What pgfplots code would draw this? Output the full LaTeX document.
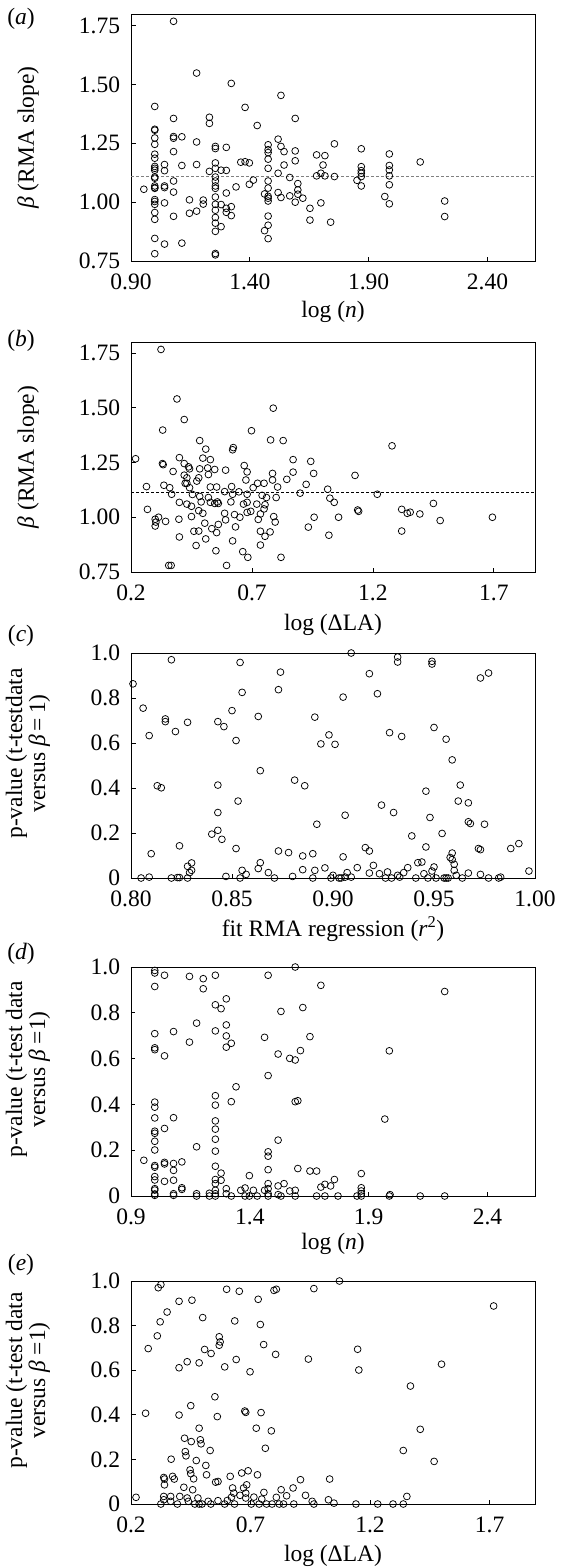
\documentclass[border=0pt]{standalone}
\usepackage{fontspec}
\setmainfont{Liberation Serif}
\usepackage{pgfplots}
\pgfplotsset{compat=1.18}
\newcommand\fs{\fontsize{23.5}{23}\selectfont}
\pgfplotsset{
 panel/.style={
  scale only axis, width=404pt,
  axis line style={line width=0.9pt},
  xtick pos=bottom, ytick pos=left, tick align=inside,
  major tick length=4.5pt, tick style={line width=0.8pt, black},
  every tick label/.append style={font=\fs, inner sep=0pt},
  xticklabel style={yshift=-12.6pt},
  yticklabel style={xshift=-10.7pt},
  /pgf/number format/assume math mode=true,
  clip=false,
  every axis x label/.style={at={(axis description cs:0.5,0)},anchor=center,yshift=-51pt,font=\fs},
  every axis y label/.style={at={(axis description cs:0,0.5)},xshift=-103pt,rotate=90,anchor=center,font=\fs,align=center},
 },
 pts/.style={only marks, mark=o, mark size=3.4pt, mark options={line width=0.75pt, black}},
}
\begin{document}
\begin{tikzpicture}
\useasboundingbox (0,0) rectangle (574pt,-1568pt);
% ---------- (a)
\node[font=\fs] at (21pt,-19pt) {(\textit{a})};
\begin{axis}[panel, at={(131pt,-261pt)}, anchor=south west, height=247pt,
  xmin=0.9, xmax=2.6, ymin=0.75, ymax=1.80,
  xtick={0.9,1.4,1.9,2.4}, xticklabels={0.90,1.40,1.90,2.40},
  ytick={0.75,1,1.25,1.5,1.75}, yticklabels={0.75,1.00,1.25,1.50,1.75},
  xlabel={log (\textit{n})}, ylabel={\textit{β} (RMA slope)}]
\addplot[gray, line width=0.8pt, dash pattern=on 3pt off 2pt] coordinates {(0.9,1.11) (2.6,1.11)};
\addplot[pts] coordinates {
(0.954,1.055)
(1.0,1.407)(1.0,1.310)(1.0,1.306)(1.0,1.273)(1.0,1.246)(1.0,1.204)(1.0,1.187)(1.0,1.152)(1.0,1.144)(1.0,1.136)(1.0,1.107)(1.0,1.102)(1.0,1.069)(1.0,1.062)(1.0,1.059)(1.0,1.011)(1.0,1.003)(1.0,0.991)(1.0,0.956)(1.0,0.927)(1.0,0.846)(1.0,0.781)
(1.041,1.16)(1.041,1.134)(1.041,1.069)(1.041,1.062)(1.041,0.997)(1.041,0.822)
(1.079,1.769)(1.079,1.356)(1.079,1.279)(1.079,1.272)(1.079,1.215)(1.079,1.09)(1.079,1.043)(1.079,0.94)
(1.114,1.278)(1.114,1.156)(1.114,0.826)
(1.146,1.01)(1.146,0.953)
(1.176,1.549)(1.176,1.256)(1.176,1.16)(1.176,0.962)
(1.204,1.009)(1.204,0.992)
(1.230,1.361)(1.230,1.335)(1.230,1.131)
(1.255,1.237)(1.255,1.228)(1.255,1.167)(1.255,1.144)(1.255,1.107)(1.255,1.090)(1.255,1.069)(1.255,1.059)(1.255,1.022)(1.255,0.991)(1.255,0.966)(1.255,0.935)(1.255,0.911)(1.255,0.876)(1.255,0.782)(1.255,0.776)
(1.279,1.136)(1.279,0.99)(1.279,0.896)
(1.301,1.233)(1.301,1.135)(1.301,1.039)(1.301,0.974)(1.301,0.957)
(1.322,1.505)(1.322,0.981)(1.322,0.943)
(1.342,1.065)(1.362,1.170)(1.380,1.403)(1.380,1.172)(1.398,1.167)(1.398,1.076)(1.415,1.094)(1.431,1.326)
(1.462,1.035)(1.462,0.879)
(1.477,1.244)(1.477,1.223)(1.477,1.211)(1.477,1.183)(1.477,1.144)(1.477,1.09)(1.477,1.06)(1.477,1.025)(1.477,1.017)(1.477,1.005)(1.477,0.941)(1.477,0.902)(1.477,0.845)
(1.519,1.268)(1.519,1.123)(1.519,1.041)
(1.531,1.454)(1.531,1.237)(1.531,1.02)
(1.544,1.215)(1.544,1.158)
(1.568,1.105)(1.568,1.027)
(1.591,1.356)(1.591,1.218)(1.591,1.176)(1.591,1.0)
(1.602,1.079)(1.602,1.052)(1.602,1.034)
(1.623,1.017)(1.653,0.974)(1.653,0.924)
(1.681,1.201)(1.681,1.112)(1.699,1.123)(1.699,0.997)(1.708,1.158)(1.716,1.198)(1.716,1.112)
(1.740,0.915)(1.756,1.248)(1.756,1.109)
(1.851,1.093)
(1.869,1.227)(1.869,1.151)(1.869,1.134)(1.869,1.123)(1.869,1.109)(1.869,1.069)
(1.968,1.024)
(1.987,1.205)(1.987,1.156)(1.987,1.137)(1.987,1.112)(1.987,1.074)(1.987,0.993)
(2.117,1.171)(2.22,1.005)(2.22,0.939)
};
\end{axis}
% ---------- (b)
\node[font=\fs] at (21pt,-341pt) {(\textit{b})};
\begin{axis}[panel, at={(131pt,-572pt)}, anchor=south west, height=230pt,
  xmin=0.2, xmax=1.87, ymin=0.75, ymax=1.80,
  xtick={0.2,0.7,1.2,1.7}, xticklabels={0.2,0.7,1.2,1.7},
  ytick={0.75,1,1.25,1.5,1.75}, yticklabels={0.75,1.00,1.25,1.50,1.75},
  xlabel={log (ΔLA)}, ylabel={\textit{β} (RMA slope)}, every axis x label/.append style={yshift=-2pt}]
\addplot[black, line width=0.8pt, dash pattern=on 3pt off 2pt] coordinates {(0.2,1.115) (1.87,1.115)};
\addplot[pts] coordinates {
(0.219,1.267)(0.264,1.14)(0.268,1.036)(0.30,0.991)(0.303,0.978)(0.30,0.96)(0.314,1.0)
(0.324,1.766)(0.33,1.245)(0.333,1.24)(0.331,1.398)(0.336,1.146)(0.343,0.981)(0.356,0.78)(0.366,0.78)
(0.36,1.135)(0.368,1.105)(0.374,1.209)(0.39,1.54)(0.398,0.991)(0.40,1.272)(0.40,1.068)(0.40,0.91)
(0.42,1.446)(0.42,1.245)(0.42,1.192)(0.424,1.155)(0.431,1.18)(0.431,1.155)(0.438,1.23)(0.442,1.221)(0.442,1.135)(0.431,1.06)
(0.45,1.003)(0.45,1.05)(0.454,1.104)(0.46,0.936)(0.469,0.871)(0.472,1.165)(0.48,1.18)(0.484,1.35)(0.484,1.221)(0.484,1.095)
(0.48,0.937)(0.48,1.03)(0.49,1.07)(0.497,1.018)(0.497,1.27)(0.505,0.973)(0.509,1.311)(0.509,0.901)
(0.517,1.225)(0.52,1.195)(0.52,1.09)(0.528,1.263)(0.528,1.138)(0.528,1.068)(0.534,0.948)
(0.546,1.218)(0.546,1.063)(0.551,0.847)(0.554,1.138)(0.557,1.07)(0.561,0.967)(0.561,1.063)(0.554,0.93)
(0.587,1.117)(0.587,1.018)(0.591,0.988)(0.591,1.215)(0.595,0.78)
(0.613,1.07)(0.616,1.14)(0.62,1.105)(0.62,0.892)(0.62,1.308)(0.623,1.318)(0.628,1.012)(0.632,0.956)
(0.646,1.116)(0.65,1.0)(0.662,0.843)(0.665,1.06)(0.668,1.236)(0.675,1.17)(0.68,1.207)(0.68,1.022)(0.68,1.068)(0.68,1.105)(0.683,0.817)
(0.695,1.027)(0.698,1.395)(0.705,1.135)(0.72,1.06)(0.726,0.99)(0.723,1.155)
(0.735,1.015)(0.735,0.936)(0.735,0.873)(0.742,1.1)(0.75,1.155)(0.75,1.038)(0.754,1.057)(0.754,0.913)(0.76,1.09)
(0.775,0.933)(0.777,1.353)(0.785,1.2)(0.785,1.17)(0.788,1.498)(0.79,1.003)(0.796,0.978)(0.80,1.09)(0.806,1.138)
(0.82,0.817)(0.829,1.35)(0.844,1.173)(0.87,1.263)(0.87,1.206)(0.899,1.11)(0.924,1.15)(0.933,0.955)(0.943,1.255)(0.955,1.2)(0.957,1.0)
(1.013,1.128)(1.018,0.918)(1.022,1.087)(1.04,1.068)(1.058,1.0)
(1.126,1.191)(1.137,1.033)(1.141,1.027)(1.218,1.105)(1.279,1.326)
(1.319,1.036)(1.319,0.937)(1.342,1.018)(1.354,1.023)(1.394,1.015)(1.45,1.063)(1.478,0.985)(1.694,1.0)
};
\end{axis}
% ---------- (c)
\node[font=\fs] at (21pt,-636pt) {(\textit{c})};
\begin{axis}[panel, at={(131pt,-878pt)}, anchor=south west, height=225pt,
  xmin=0.8, xmax=1.0, ymin=0, ymax=1,
  xtick={0.8,0.85,0.9,0.95,1.0}, xticklabels={0.80,0.85,0.90,0.95,1.00},
  ytick={0,0.2,0.4,0.6,0.8,1}, yticklabels={0,0.2,0.4,0.6,0.8,1.0},
  xlabel={fit RMA regression (\textit{r}\textsuperscript{2})},
  ylabel={p-value (t-testdata\\versus \textit{β}\,=\,1)},
  every axis y label/.append style={xshift=12pt}]
\addplot[pts] coordinates {
(0.801,0.863)(0.805,0.0)(0.806,0.755)(0.809,0.633)(0.809,0.004)(0.810,0.108)(0.813,0.41)(0.815,0.401)
(0.817,0.707)(0.817,0.695)(0.820,0.97)(0.820,0.0)(0.822,0.651)(0.823,0.002)(0.824,0.002)(0.824,0.143)
(0.828,0.052)(0.828,0.0)(0.828,0.692)(0.829,0.024)(0.830,0.067)(0.830,0.034)
(0.840,0.195)(0.843,0.212)(0.843,0.291)(0.843,0.413)(0.843,0.695)(0.845,0.172)(0.846,0.673)(0.847,0.007)
(0.850,0.744)(0.852,0.611)(0.852,0.131)(0.853,0.342)(0.854,0.958)(0.854,0.0)(0.855,0.825)(0.855,0.034)(0.857,0.016)
(0.863,0.718)(0.864,0.068)(0.863,0.042)(0.864,0.477)(0.868,0.024)(0.871,0.0)(0.873,0.837)(0.873,0.12)(0.874,0.915)
(0.878,0.113)(0.880,0.007)(0.881,0.435)(0.885,0.098)(0.885,0.037)(0.886,0.41)(0.89,0.0)(0.89,0.108)(0.891,0.715)(0.891,0.034)
(0.892,0.239)(0.894,0.596)(0.896,0.045)(0.898,0.636)(0.899,0.0)(0.90,0.012)(0.901,0.594)(0.903,0.0)(0.904,0.0)
(0.905,0.804)(0.905,0.094)(0.906,0.279)(0.906,0.004)(0.907,0.024)(0.909,1.0)(0.909,0.004)(0.912,0.046)
(0.916,0.135)(0.918,0.908)(0.918,0.12)(0.918,0.022)(0.920,0.056)(0.922,0.819)(0.923,0.019)(0.924,0.324)
(0.926,0.0)(0.927,0.027)(0.928,0.646)(0.929,0.0)(0.930,0.291)(0.932,0.982)(0.932,0.96)(0.932,0.012)(0.933,0.004)
(0.934,0.629)(0.935,0.024)(0.937,0.046)(0.939,0.187)(0.941,0.0)(0.942,0.068)(0.944,0.071)(0.945,0.019)
(0.946,0.386)(0.946,0.138)(0.947,0.0)(0.948,0.269)(0.949,0.963)(0.949,0.951)(0.949,0.031)(0.950,0.049)(0.950,0.669)
(0.951,0.0)(0.954,0.198)(0.955,0.0)(0.956,0.0)(0.957,0.0)(0.956,0.617)(0.958,0.091)(0.959,0.111)(0.959,0.525)
(0.959,0.082)(0.96,0.061)(0.96,0.034)(0.961,0.012)(0.963,0.413)(0.962,0.342)(0.964,0.0)
(0.967,0.334)(0.967,0.25)(0.968,0.242)(0.967,0.022)(0.972,0.131)(0.973,0.126)(0.973,0.889)(0.973,0.016)
(0.975,0.239)(0.977,0.911)(0.977,0.0)(0.982,0.0)(0.983,0.004)(0.988,0.131)(0.992,0.153)(0.997,0.031)
};
\end{axis}
% ---------- (d)
\node[font=\fs] at (21pt,-954pt) {(\textit{d})};
\begin{axis}[panel, at={(131pt,-1196pt)}, anchor=south west, height=229pt,
  xmin=0.9, xmax=2.6, ymin=0, ymax=1,
  xtick={0.9,1.4,1.9,2.4}, xticklabels={0.9,1.4,1.9,2.4},
  ytick={0,0.2,0.4,0.6,0.8,1}, yticklabels={0,0.2,0.4,0.6,0.8,1.0},
  xlabel={log (\textit{n})},
  ylabel={p-value (t-test data\\versus \textit{β} =1)},
  every axis y label/.append style={xshift=12pt},
  every axis x label/.append style={yshift=3pt}]
\addplot[pts] coordinates {
(0.954,0.156)
(1.0,0.985)(1.0,0.974)(1.0,0.915)(1.0,0.709)(1.0,0.647)(1.0,0.639)(1.0,0.41)(1.0,0.388)(1.0,0.341)(1.0,0.283)(1.0,0.274)(1.0,0.239)(1.0,0.201)(1.0,0.133)(1.0,0.126)(1.0,0.085)(1.0,0.07)(1.0,0.032)(1.0,0.026)(1.0,0.009)(1.0,0.003)
(1.041,0.964)(1.041,0.612)(1.041,0.295)(1.041,0.147)(1.041,0.14)(1.041,0.064)
(1.079,0.718)(1.079,0.342)(1.079,0.142)(1.079,0.112)(1.079,0.069)(1.079,0.01)(1.079,0.003)
(1.114,0.149)(1.114,0.036)(1.114,0.029)
(1.146,0.959)(1.146,0.672)
(1.176,0.755)(1.176,0.215)(1.176,0.01)(1.176,0.0)
(1.204,0.949)(1.204,0.905)
(1.230,0.0)(1.230,0.012)
(1.255,0.964)(1.255,0.835)(1.255,0.721)(1.255,0.438)(1.255,0.397)(1.255,0.328)(1.255,0.292)(1.255,0.248)(1.255,0.196)(1.255,0.13)(1.255,0.072)(1.255,0.054)(1.255,0.025)(1.255,0.01)(1.255,0.0)
(1.279,0.818)(1.279,0.1)(1.279,0.069)
(1.301,0.861)(1.301,0.747)(1.301,0.699)(1.301,0.65)(1.301,0.032)(1.301,0.01)
(1.322,0.667)(1.322,0.412)(1.322,0.0)
(1.342,0.477)(1.362,0.025)(1.380,0.035)(1.380,0.0)(1.398,0.089)(1.398,0.0)(1.415,0.025)(1.431,0.0)
(1.462,0.693)(1.462,0.025)
(1.477,0.964)(1.477,0.526)(1.477,0.193)(1.477,0.174)(1.477,0.115)(1.477,0.054)(1.477,0.032)(1.477,0.01)(1.477,0.0)
(1.519,0.62)(1.519,0.244)(1.519,0.044)(1.519,0.006)
(1.531,0.806)(1.531,0.0)(1.544,0.054)(1.568,0.601)(1.568,0.022)
(1.591,1.0)(1.591,0.594)(1.591,0.412)(1.591,0.025)(1.591,0.0)
(1.602,0.416)(1.602,0.12)(1.613,0.635)(1.623,0.823)
(1.653,0.696)(1.653,0.109)(1.681,0.109)(1.681,0.0)(1.699,0.92)(1.699,0.039)
(1.716,0.051)(1.716,0.0)(1.740,0.044)(1.756,0.072)(1.771,0.0)(1.851,0.0)
(1.869,0.098)(1.869,0.036)(1.869,0.022)(1.869,0.01)(1.869,0.0)
(1.968,0.336)(1.987,0.634)(1.987,0.0)(1.990,0.006)
(2.117,0.0)(2.22,0.893)(2.22,0.0)
};
\end{axis}
% ---------- (e)
\node[font=\fs] at (21pt,-1265pt) {(\textit{e})};
\begin{axis}[panel, at={(131pt,-1504pt)}, anchor=south west, height=223pt,
  xmin=0.2, xmax=1.89, ymin=0, ymax=1,
  xtick={0.2,0.7,1.2,1.7}, xticklabels={0.2,0.7,1.2,1.7},
  ytick={0,0.2,0.4,0.6,0.8,1}, yticklabels={0,0.2,0.4,0.6,0.8,1.0},
  xlabel={log (ΔLA)},
  ylabel={p-value (t-test data\\versus \textit{β} =1)},
  every axis y label/.append style={xshift=12pt},
  every axis x label/.append style={yshift=-1pt}]
\addplot[pts] coordinates {
(0.221,0.03)(0.261,0.407)(0.272,0.697)(0.31,0.754)(0.314,0.97)(0.325,0.984)(0.322,0.817)(0.325,0.0)
(0.337,0.119)(0.34,0.112)(0.34,0.086)(0.337,0.034)(0.337,0.019)(0.351,0.861)(0.366,0.034)(0.366,0.012)
(0.368,0.201)(0.374,0.124)(0.381,0.112)(0.394,0.0)(0.401,0.909)(0.401,0.611)(0.401,0.399)(0.404,0.034)
(0.421,0.075)(0.424,0.295)(0.427,0.235)(0.43,0.216)(0.435,0.638)(0.435,0.027)(0.44,0.012)
(0.447,0.153)(0.45,0.136)(0.45,0.441)(0.452,0.28)(0.455,0.914)(0.458,0.064)(0.462,0.113)(0.467,0.0)
(0.473,0.195)(0.48,0.027)(0.485,0.633)(0.485,0.34)(0.49,0.288)(0.493,0.27)(0.485,0.0)(0.497,0.0)
(0.5,0.836)(0.508,0.693)(0.513,0.173)(0.516,0.131)(0.523,0.012)(0.531,0.24)(0.535,0.675)(0.534,0.0)
(0.551,0.481)(0.554,0.098)(0.561,0.392)(0.564,0.101)(0.564,0.015)(0.569,0.75)(0.569,0.712)(0.573,0.727)
(0.592,0.615)(0.592,0.0)(0.6,0.963)(0.603,0.016)(0.615,0.124)(0.62,0.03)(0.625,0.072)(0.63,0.049)(0.633,0.0)
(0.634,0.821)(0.64,0.648)(0.653,0.954)(0.656,0.039)(0.663,0.139)(0.671,0.072)(0.676,0.417)(0.68,0.411)
(0.68,0.027)(0.68,0.049)(0.684,0.086)(0.69,0.149)(0.698,0.593)(0.703,0.0)(0.714,0.031)(0.724,0.34)(0.729,0.131)
(0.732,0.918)(0.736,0.0)(0.741,0.805)(0.744,0.41)(0.747,0.022)(0.755,0.715)(0.756,0.052)(0.762,0.25)(0.767,0.0)
(0.787,0.328)(0.79,0.0)(0.798,0.958)(0.808,0.963)(0.805,0.671)(0.808,0.03)(0.82,0.0)(0.828,0.064)(0.838,0.0)
(0.851,0.037)(0.878,0.072)(0.881,0.0)(0.909,0.109)(0.93,0.039)(0.942,0.65)(0.958,0.012)(0.965,0.0)(0.965,0.966)
(1.026,0.019)(1.031,0.112)(1.049,0.004)(1.072,1.0)(1.141,0.0)(1.148,0.694)(1.153,0.601)
(1.232,0.0)(1.296,0.0)(1.339,0.24)(1.339,0.0)(1.354,0.034)(1.369,0.529)(1.41,0.335)(1.468,0.191)(1.499,0.627)(1.717,0.888)
};
\end{axis}
\end{tikzpicture}
\end{document}
